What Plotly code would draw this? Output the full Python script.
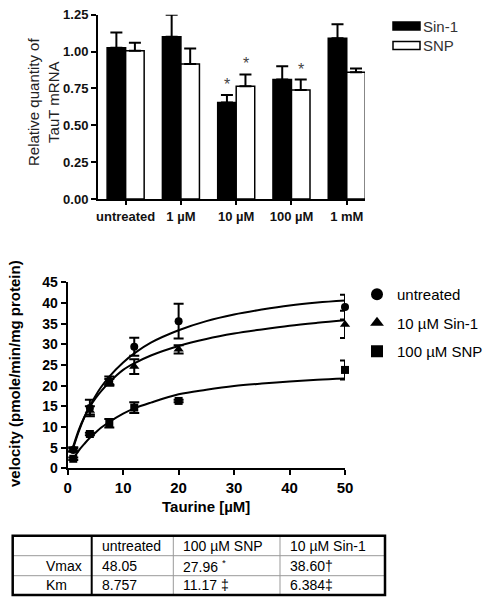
import plotly.graph_objects as go

W, H = 486, 600

# ---------------- Top chart data ----------------
groups = ["untreated", "1 \u00b5M", "10 \u00b5M", "100 \u00b5M", "1 mM"]
sin1_vals = [1.025, 1.10, 0.655, 0.81, 1.09]
sin1_err = [0.105, 0.15, 0.05, 0.09, 0.095]
snp_vals = [1.005, 0.915, 0.765, 0.74, 0.86]
snp_err = [0.055, 0.105, 0.08, 0.07, 0.025]
star_marks = [("10 \u00b5M", "Sin-1"), ("10 \u00b5M", "SNP"), ("100 \u00b5M", "SNP")]

# ---------------- Bottom chart data ----------------
taurine = [1, 4, 7.5, 12, 20, 50]
untreated_v = [4.4, 14.6, 21.2, 29.4, 35.6, 39.0]
untreated_e = [0.4, 2.0, 1.0, 2.2, 4.2, 3.0]
sin_v = [4.6, 14.0, 20.8, 24.6, 28.8, 34.8]
sin_e = [0.5, 1.0, 0.8, 1.8, 1.0, 3.3]
snp_v = [2.3, 8.3, 10.9, 14.7, 16.3, 23.8]
snp_e = [0.3, 0.3, 1.0, 1.3, 0.3, 2.3]

curve_x = [1, 2, 3, 4, 5, 6, 7.5, 10, 12, 15, 20, 25, 30, 35, 40, 45, 50]
untreated_curve = [4.9, 8.9, 12.3, 15.1, 17.5, 19.6, 22.2, 25.6, 27.8, 30.4, 33.4, 35.6, 37.2, 38.4, 39.4, 40.1, 40.6]
sin_curve = [5.3, 9.3, 12.4, 14.9, 16.9, 18.6, 20.8, 23.8, 25.4, 27.3, 29.6, 31.3, 32.6, 33.6, 34.5, 35.2, 35.8]
snp_curve = [2.3, 4.3, 5.9, 7.4, 8.6, 9.8, 11.2, 13.2, 14.5, 15.9, 17.9, 19.0, 19.9, 20.5, 21.0, 21.4, 21.7]

# ---------------- Table data ----------------
table_header = ["untreated", "100 \u00b5M SNP", "10 \u00b5M Sin-1"]
row_labels = ["Vmax", "Km"]
vmax_vals = ["48.05", "27.96 <sup>*</sup>", "38.60\u2020"]
km_vals = ["8.757", "11.17 \u2021", "6.384\u2021"]


def px(x):
    return x / W


def py(y):
    return 1 - y / H


FONT = "Arial, Liberation Sans, sans-serif"

fig = go.Figure()

# Top bars
fig.add_trace(go.Bar(
    x=groups, y=sin1_vals, name="Sin-1",
    marker=dict(color="black", line=dict(color="black", width=1.5)),
    error_y=dict(type="data", array=sin1_err, arrayminus=[0] * len(sin1_err), symmetric=False,
                 color="black", thickness=2, width=6),
    xaxis="x", yaxis="y", showlegend=False,
))
fig.add_trace(go.Bar(
    x=groups, y=snp_vals, name="SNP",
    marker=dict(color="white", line=dict(color="black", width=1.5)),
    error_y=dict(type="data", array=snp_err, arrayminus=[0] * len(snp_err), symmetric=False,
                 color="black", thickness=2, width=6),
    xaxis="x", yaxis="y", showlegend=False,
))

# Bottom curves
for cy in (untreated_curve, sin_curve, snp_curve):
    fig.add_trace(go.Scatter(
        x=curve_x, y=cy, mode="lines", line=dict(color="black", width=2, shape="spline"),
        xaxis="x2", yaxis="y2", showlegend=False, hoverinfo="skip", cliponaxis=False,
    ))

series = [
    ("untreated", untreated_v, untreated_e, "circle", 8),
    ("10 \u00b5M Sin-1", sin_v, sin_e, "triangle-up", 9),
    ("100 \u00b5M SNP", snp_v, snp_e, "square", 8),
]
for i, (nm, vy, ve, sym, sz) in enumerate(series):
    fig.add_trace(go.Scatter(
        x=taurine, y=vy, mode="markers", name=nm,
        marker=dict(color="black", symbol=sym, size=sz),
        error_y=dict(type="data", array=ve, color="black", thickness=2, width=5),
        xaxis="x2", yaxis="y2", legend="legend2", legendgroup=f"g{i}", cliponaxis=False,
    ))

fig.update_layout(
    width=W, height=H,
    margin=dict(l=0, r=0, t=0, b=0, autoexpand=False),
    paper_bgcolor="white", plot_bgcolor="white",
    font=dict(family=FONT, color="black"),
    barmode="group", bargap=0.33, bargroupgap=0,
    xaxis=dict(
        domain=[px(98), px(365)], range=[-0.5, 4.33], type="category",
        showline=True, linecolor="black", linewidth=2, showgrid=False, zeroline=False,
        ticks="outside", ticklen=4, tickwidth=2, tickcolor="black",
        tickfont=dict(family=FONT, size=13, color="#111", weight="bold"),
        anchor="y", fixedrange=True,
    ),
    yaxis=dict(
        domain=[py(199), py(14.7)], range=[0, 1.25],
        tickvals=[0, 0.25, 0.5, 0.75, 1.0, 1.25],
        ticktext=["0.00", "0.25", "0.50", "0.75", "1.00", "1.25"],
        showline=True, linecolor="black", linewidth=2, showgrid=False, zeroline=False,
        ticks="outside", ticklen=5, tickwidth=2, tickcolor="black",
        tickfont=dict(family=FONT, size=13, color="#111", weight="bold"),
        anchor="x", fixedrange=True,
    ),
    xaxis2=dict(
        domain=[px(67.7), px(345)], range=[0, 50],
        tickvals=[0, 10, 20, 30, 40, 50],
        showline=True, linecolor="black", linewidth=2, showgrid=False, zeroline=False,
        ticks="outside", ticklen=5, tickwidth=2, tickcolor="black",
        tickfont=dict(family=FONT, size=15, color="black", weight="bold"),
        anchor="y2", fixedrange=True,
    ),
    yaxis2=dict(
        domain=[py(468.3), py(282.3)], range=[0, 45],
        tickvals=list(range(0, 50, 5)),
        showline=True, linecolor="black", linewidth=2, showgrid=False, zeroline=False,
        ticks="outside", ticklen=5, tickwidth=2, tickcolor="black",
        tickfont=dict(family=FONT, size=14, color="black", weight="bold"),
        anchor="x2", fixedrange=True,
    ),
    legend2=dict(
        xref="container", yref="container",
        x=px(357), y=py(278), xanchor="left", yanchor="top",
        font=dict(family=FONT, size=15, color="black"),
        bgcolor="rgba(0,0,0,0)", tracegroupgap=6, itemsizing="constant",
    ),
)

annotations = []
shapes = []


def ann(x, y, text, xanchor="center", yanchor="middle", **kw):
    d = dict(x=px(x), y=py(y), xref="paper", yref="paper", text=text, showarrow=False,
             xanchor=xanchor, yanchor=yanchor)
    d.update(kw)
    annotations.append(d)


# Asterisks on top chart
bar_offset = {"Sin-1": -9.3, "SNP": 9.3}
val_lookup = {"Sin-1": (sin1_vals, sin1_err), "SNP": (snp_vals, snp_err)}
for g, s in star_marks:
    vals, errs = val_lookup[s]
    i = groups.index(g)
    annotations.append(dict(
        x=g, y=vals[i] + errs[i], xref="x", yref="y", text="*", showarrow=False,
        xshift=bar_offset[s], yshift=0, yanchor="bottom", xanchor="center",
        font=dict(family=FONT, size=16, color="#444"),
    ))

# Top y title
ann(43, 102, "Relative quantity of<br>TauT mRNA", textangle=-90,
    font=dict(family=FONT, size=15, color="#222"), align="center")

# Top legend
shapes.append(dict(type="rect", xref="paper", yref="paper", x0=px(393), x1=px(420),
                   y0=py(30), y1=py(22), fillcolor="black", line=dict(color="black", width=1.5)))
shapes.append(dict(type="rect", xref="paper", yref="paper", x0=px(393), x1=px(420),
                   y0=py(49.5), y1=py(41.5), fillcolor="white", line=dict(color="black", width=1.5)))
ann(421, 26.5, "Sin-1", xanchor="left", font=dict(family=FONT, size=15, color="#333"))
ann(421, 45.5, "SNP", xanchor="left", font=dict(family=FONT, size=15, color="#333"))

# Bottom titles
ann(14, 374, "velocity (pmole/min/mg protein)", textangle=-90,
    font=dict(family=FONT, size=15, color="black", weight="bold"))
ann(206, 506, "Taurine [\u00b5M]", font=dict(family=FONT, size=15, color="black", weight="bold"))

# Table
tx = [12.7, 91.7, 173.3, 280, 385]
ty = [535.7, 555.7, 575.7, 595]
for x in tx[2:4]:
    shapes.append(dict(type="line", xref="paper", yref="paper", x0=px(x), x1=px(x),
                       y0=py(ty[0]), y1=py(ty[-1]), line=dict(color="#999", width=1)))
for y in ty[1:3]:
    shapes.append(dict(type="line", xref="paper", yref="paper", x0=px(tx[0]), x1=px(tx[-1]),
                       y0=py(y), y1=py(y), line=dict(color="#999", width=1)))
shapes.append(dict(type="line", xref="paper", yref="paper", x0=px(tx[1]), x1=px(tx[1]),
                   y0=py(ty[0]), y1=py(ty[-1]), line=dict(color="black", width=2)))
shapes.append(dict(type="rect", xref="paper", yref="paper", x0=px(tx[0]), x1=px(tx[-1]),
                   y0=py(ty[-1]), y1=py(ty[0]), line=dict(color="black", width=2.5)))

tfont = dict(family=FONT, size=14, color="black")
rowc = [(ty[0] + ty[1]) / 2, (ty[1] + ty[2]) / 2, (ty[2] + ty[3]) / 2]
for j, h in enumerate(table_header):
    ann(tx[j + 1] + 8, rowc[0], h, xanchor="left", font=tfont)
for j, v in enumerate(vmax_vals):
    ann(tx[j + 1] + 8, rowc[1], v, xanchor="left", font=tfont)
for j, v in enumerate(km_vals):
    ann(tx[j + 1] + 8, rowc[2], v, xanchor="left", font=tfont)
ann(84, rowc[1], row_labels[0], xanchor="right", font=tfont)
ann(44, rowc[2], row_labels[1], xanchor="left", font=tfont)

fig.update_layout(annotations=annotations, shapes=shapes)

fig.write_html("out.html", config={"displayModeBar": False},
               post_script="document.body.style.margin='0px';")
